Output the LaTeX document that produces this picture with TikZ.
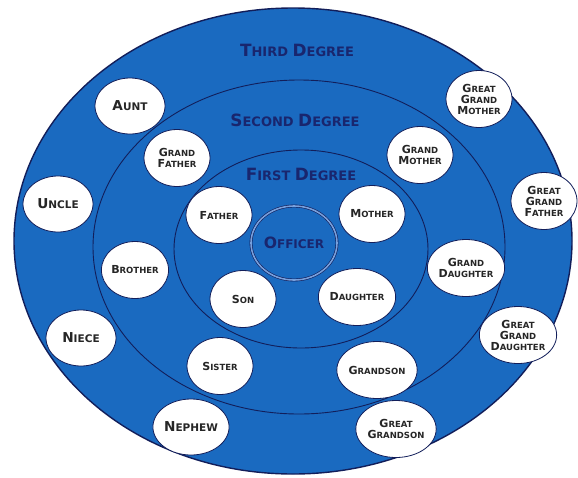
\documentclass[tikz,border=0pt]{standalone}
\usepackage{fontspec}
\setsansfont{DejaVu Sans}
\usetikzlibrary{shapes.geometric}

\definecolor{ringblue}{RGB}{26,106,192}
\definecolor{ringline}{RGB}{18,30,90}
\definecolor{labelnavy}{RGB}{25,38,110}
\definecolor{innerring}{RGB}{120,160,220}

% first letter of a small-caps word
\makeatletter
\newcommand\fc[1]{{\fontsize{\fpeval{1.3*\f@size}}{\f@baselineskip}\selectfont #1}}
\makeatother

\begin{document}
\begin{tikzpicture}[x=1pt, y=1pt,
    ring/.style={draw=ringline, line width=0.9pt},
    kin/.style={ellipse, draw=ringline, line width=0.8pt, fill=white, text=black!85,
      minimum width=66pt, minimum height=57pt, inner sep=0pt, align=center,
      font=\sffamily\bfseries\fontsize{8.5}{11}\selectfont},
    farkin/.style={kin, minimum width=70pt, minimum height=56pt,
      font=\sffamily\bfseries\fontsize{10.5}{12}\selectfont},
    degree/.style={text=labelnavy, font=\sffamily\bfseries\fontsize{13}{14}\selectfont},
    officer/.style={ellipse, draw=ringline, line width=0.6pt, double=innerring,
      double distance=1.6pt, minimum width=86pt, minimum height=74pt, inner sep=0pt,
      text=labelnavy, font=\sffamily\bfseries\fontsize{12}{13}\selectfont}]

    \useasboundingbox (0,0) rectangle (578,-477);

    % Rings
    \fill[ringblue] (293,-241) ellipse [x radius=279, y radius=233];
    \draw[ringline, line width=1.4pt] (293,-241) ellipse [x radius=279, y radius=233];
    \draw[ring] (299,-247) ellipse [x radius=206, y radius=167];
    \draw[ring] (301,-249) ellipse [x radius=127, y radius=99];

    % Degree labels
    \node[degree] (third) at (297,-50) {\fc{T}HIRD \fc{D}EGREE};
    \node[degree] (second) at (295,-120) {\fc{S}ECOND \fc{D}EGREE};
    \node[degree] (first) at (301,-174) {\fc{F}IRST \fc{D}EGREE};

    % Centre
    \node[officer] (officer) at (294,-243) {\fc{O}FFICER};

    % First degree
    \node[kin] (father) at (219,-215) {\fc{F}ATHER};
    \node[kin] (mother) at (372,-214) {\fc{M}OTHER};
    \node[kin] (son) at (243,-299) {\fc{S}ON};
    \node[kin] (daughter) at (357,-297) {\fc{D}AUGHTER};

    % Second degree
    \node[kin] (grandfather) at (177,-158) {\fc{G}RAND\\\fc{F}ATHER};
    \node[kin] (grandmother) at (420,-155) {\fc{G}RAND\\\fc{M}OTHER};
    \node[kin] (brother) at (135,-270) {\fc{B}ROTHER};
    \node[kin] (granddaughter) at (466,-268) {\fc{G}RAND\\\fc{D}AUGHTER};
    \node[kin] (sister) at (220,-366) {\fc{S}ISTER};
    \node[kin] (grandson) at (377,-370) {\fc{G}RANDSON};

    % Third degree
    \node[farkin] (aunt) at (130,-106) {\fc{A}UNT};
    \node[kin] (ggmother) at (479,-99) {\fc{G}REAT\\\fc{G}RAND\\\fc{M}OTHER};
    \node[farkin] (uncle) at (58,-204) {\fc{U}NCLE};
    \node[kin] (ggfather) at (544,-201) {\fc{G}REAT\\\fc{G}RAND\\\fc{F}ATHER};
    \node[farkin] (niece) at (81,-338) {\fc{N}IECE};
    \node[kin] (ggdaughter) at (518,-335) {\fc{G}REAT\\\fc{G}RAND\\\fc{D}AUGHTER};
    \node[farkin] (nephew) at (191,-427) {\fc{N}EPHEW};
    \node[kin] (ggson) at (396,-429) {\fc{G}REAT\\\fc{G}RANDSON};

\end{tikzpicture}
\end{document}
